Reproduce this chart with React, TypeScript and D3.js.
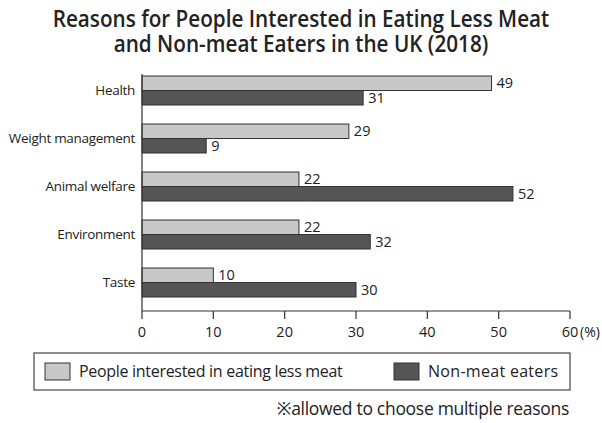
import React from "react";
import * as d3 from "d3";

const categories = ["Health", "Weight management", "Animal welfare", "Environment", "Taste"];
const seriesNames = ["People interested in eating less meat", "Non-meat eaters"];
const lessMeat = [49, 29, 22, 22, 10];
const nonMeat = [31, 9, 52, 32, 30];
const xTicks = [0, 10, 20, 30, 40, 50, 60];
const titleLines = ["Reasons for People Interested in Eating Less Meat", "and Non-meat Eaters in the UK (2018)"];
const footnote = "※allowed to choose multiple reasons";

const FONT = "'Open Sans', 'Noto Sans', sans-serif";
const colors = ["#c8c8c8", "#555555"];

export default function App() {
  const W = 602, H = 423;
  const x = d3.scaleLinear().domain([0, 60]).range([142, 570]);
  const y = d3.scaleBand<string>().domain(categories).range([76, 297]).paddingInner(0.396).paddingOuter(0);
  const inner = d3.scaleBand<number>().domain([0, 1]).range([0, y.bandwidth()]);
  const series = [lessMeat, nonMeat];
  const axisY = 311;

  return (
    <svg width={W} height={H} style={{ position: "absolute", left: 0, top: 0, background: "#fff" }} fontFamily={FONT}>
      <rect x={0} y={0} width={W} height={H} fill="#fff" />
      {titleLines.map((t, i) => (
        <text key={i} transform={`translate(301,${27 + i * 25}) scale(0.92,1)`} x={0} y={0} textAnchor="middle" fontSize={22.5} fontWeight={600} fill="#222">
          {t}
        </text>
      ))}
      {categories.map((c, ci) =>
        series.map((s, si) => {
          const by = (y(c) as number) + (inner(si) as number);
          return (
            <g key={c + si}>
              <rect x={x(0)} y={by} width={x(s[ci]) - x(0)} height={inner.bandwidth()} fill={colors[si]} stroke="#333" strokeWidth={1} />
              <text x={x(s[ci]) + 5} y={by + inner.bandwidth() / 2} dy="0.36em" fontSize={14.5} fill="#222">
                {s[ci]}
              </text>
            </g>
          );
        })
      )}
      {categories.map((c) => (
        <text key={c} x={135} y={(y(c) as number) + y.bandwidth() / 2} dy="0.36em" textAnchor="end" fontSize={13.5} fill="#222" letterSpacing={-0.3}>
          {c}
        </text>
      ))}
      <line x1={x(0)} x2={x(0)} y1={74} y2={axisY} stroke="#333" strokeWidth={1.2} />
      <line x1={x(0)} x2={x(60)} y1={axisY} y2={axisY} stroke="#333" strokeWidth={1.2} />
      {xTicks.map((t) => (
        <g key={t}>
          <line x1={x(t)} x2={x(t)} y1={axisY} y2={axisY + 8} stroke="#333" strokeWidth={1.2} />
          <text x={x(t)} y={337} textAnchor="middle" fontSize={14.5} fill="#222">{t}</text>
        </g>
      ))}
      <text x={x(60) + 10} y={337} fontSize={14} fill="#222">(%)</text>
      <rect x={34} y={353} width={536} height={37} fill="none" stroke="#444" strokeWidth={1.2} />
      {seriesNames.map((n, i) => {
        const sx = i === 0 ? 45 : 394;
        return (
          <g key={n}>
            <rect x={sx} y={363} width={25} height={17} fill={colors[i]} stroke="#333" strokeWidth={1} />
            <text x={sx + 34} y={371.5} dy="0.36em" fontSize={16} fill="#222" letterSpacing={i === 0 ? -0.3 : 0.3}>{n}</text>
          </g>
        );
      })}
      <text x={569} y={415} textAnchor="end" fontSize={17.5} fill="#222" letterSpacing={-0.3}>{footnote}</text>
    </svg>
  );
}
